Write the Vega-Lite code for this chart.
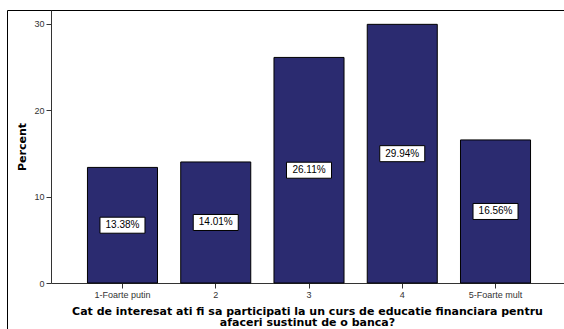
{
  "$schema": "https://vega.github.io/schema/vega-lite/v6.json",
  "width": 560,
  "height": 325,
  "autosize": {"type": "none"},
  "padding": {"left": 7, "top": 10, "right": 0, "bottom": 0},
  "background": "white",
  "config": {
    "view": {"stroke": "black", "strokeWidth": 1},
    "font": "Liberation Sans"
  },
  "data": {
    "values": [
      {"cat": "1-Foarte putin", "pct": 13.38, "label": "13.38%"},
      {"cat": "2", "pct": 14.01, "label": "14.01%"},
      {"cat": "3", "pct": 26.11, "label": "26.11%"},
      {"cat": "4", "pct": 29.94, "label": "29.94%"},
      {"cat": "5-Foarte mult", "pct": 16.56, "label": "16.56%"}
    ]
  },
  "encoding": {
    "x": {
      "field": "cat",
      "type": "nominal",
      "sort": null,
      "scale": {"range": [44, 560], "paddingInner": 0.249, "paddingOuter": 0.391},
      "axis": {
        "orient": "bottom",
        "offset": -52,
        "labelAngle": 0,
        "labelFont": "Liberation Sans",
        "labelFontSize": 9,
        "labelColor": "#333333",
        "labelPadding": 2,
        "tickSize": 5,
        "tickColor": "#333333",
        "domainColor": "#333333",
        "grid": false,
        "title": ["Cat de interesat ati fi sa participati la un curs de educatie financiara pentru", "afaceri sustinut de o banca?"],
        "titleFont": "DejaVu Sans",
        "titleFontSize": 11,
        "titleFontWeight": "bold",
        "titleColor": "black",
        "titleLineHeight": 11.5,
        "titlePadding": 6,
        "titleX": 300
      }
    }
  },
  "layer": [
    {
      "mark": {"type": "bar", "color": "#2B2B70", "stroke": "black", "strokeWidth": 1},
      "encoding": {
        "y": {
          "field": "pct",
          "type": "quantitative",
          "scale": {"domain": [0, 31.6], "range": [273, 0], "nice": false, "zero": true},
          "axis": {
            "orient": "left",
            "offset": -44,
            "values": [0, 10, 20, 30],
            "labelFont": "Liberation Sans",
            "labelFontSize": 9,
            "labelColor": "#333333",
            "labelPadding": 2,
            "tickSize": 5,
            "tickColor": "#333333",
            "domainColor": "#333333",
            "grid": false,
            "title": "Percent",
            "titleFont": "DejaVu Sans",
            "titleFontSize": 11,
            "titleFontWeight": "bold",
            "titleColor": "black",
            "titlePadding": 6
          }
        }
      }
    },
    {
      "mark": {"type": "point", "shape": "M-1,-0.356L1,-0.356L1,0.356L-1,0.356Z", "filled": true, "fill": "white", "stroke": "black", "strokeWidth": 1, "size": 2025, "opacity": 1},
      "encoding": {
        "y": {"field": "pct", "type": "quantitative", "scale": {"domain": [0, 63.2], "range": [273, 0], "nice": false}, "axis": null}
      }
    },
    {
      "mark": {"type": "text", "font": "Liberation Sans", "fontSize": 10, "color": "black", "baseline": "middle"},
      "encoding": {
        "y": {"field": "pct", "type": "quantitative", "scale": {"domain": [0, 63.2], "range": [273, 0], "nice": false}, "axis": null},
        "text": {"field": "label"}
      }
    }
  ],
  "resolve": {"scale": {"y": "independent"}}
}
